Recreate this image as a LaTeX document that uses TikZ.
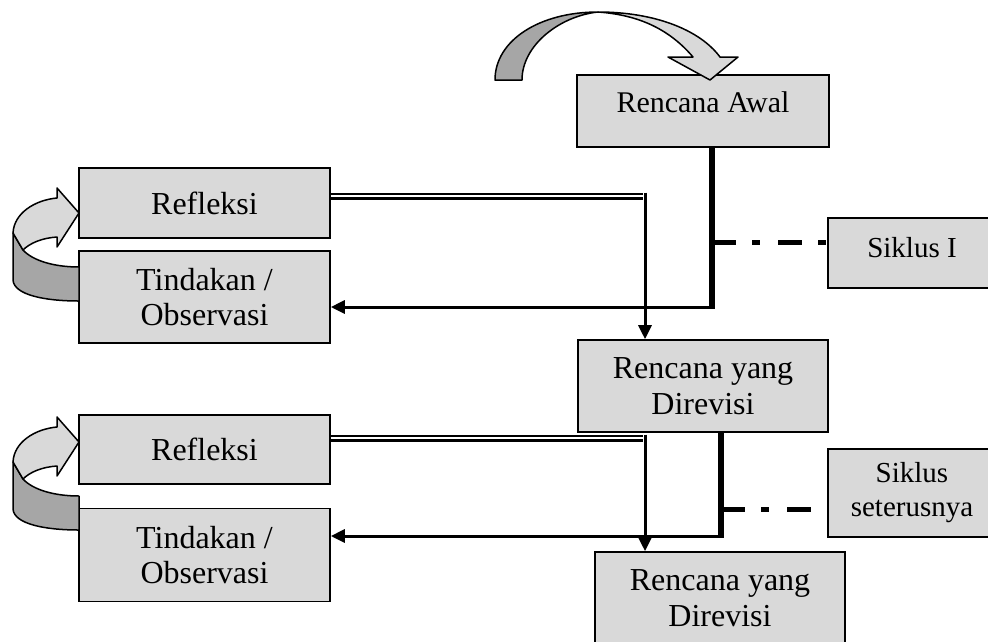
\documentclass[tikz,border=0pt]{standalone}
\usepackage{fontspec}
\setmainfont{Liberation Serif}
\usetikzlibrary{arrows.meta}
\definecolor{boxgray}{HTML}{D9D9D9}
\definecolor{ribbondark}{HTML}{A6A6A6}
\begin{document}
\begin{tikzpicture}[x=1pt,y=-1pt,
 box/.style={draw, line width=1.6pt, fill=boxgray, align=center, inner sep=0pt, font=\fontsize{32}{35.5}\selectfont},
 abox/.style={box, font=\fontsize{30}{34}\selectfont},
 sbox/.style={box, font=\fontsize{29}{34}\selectfont},
 heavy/.style={line width=6.5pt},
 arr/.style={line width=3pt, -{Triangle[length=14pt,width=13pt]}},
 dashdot/.style={line width=5pt, dash pattern=on 24pt off 16pt on 8pt off 18pt},
 dbl/.style={double, line width=2.2pt, double distance=2.6pt},
 blk/.style={draw, line width=1.5pt, line join=round}]
\useasboundingbox (0,0) rectangle (988,641);
\clip (0,0) rectangle (988,641);

% boxes
\node[abox, minimum width=252pt, minimum height=72pt, text depth=18.5pt] (awal) at (703,111) {Rencana Awal};
\node[box, minimum width=251pt, minimum height=70pt] (ref1) at (204.5,203) {Refleksi};
\node[box, minimum width=251pt, minimum height=92pt] (tin1) at (204.5,297) {Tindakan /\\Observasi};
\node[sbox, minimum width=168pt, minimum height=70pt, text depth=12pt] (sik1) at (912,253) {Siklus I};
\node[box, minimum width=250pt, minimum height=92pt] (rev1) at (703,386) {Rencana yang\\Direvisi};
\node[sbox, minimum width=168pt, minimum height=88pt] (sik2) at (912,493) {Siklus\\seterusnya};
\node[box, minimum width=251pt, minimum height=69pt] (ref2) at (204.5,449.5) {Refleksi};
\node[box, minimum width=251pt, minimum height=93pt] (tin2) at (204.5,555) {Tindakan /\\Observasi};
\node[box, minimum width=250pt, minimum height=92pt] (rev2) at (720,598) {Rencana yang\\Direvisi};

% helper coordinates
\coordinate (k1) at (712,307);
\coordinate (dd1) at (712,242);
\coordinate (v1) at (645,196);
\coordinate (k2) at (721,536);
\coordinate (dd2) at (721,509);
\coordinate (v2) at (645,438);

% cycle I connectors
\draw[heavy] (awal.south -| k1) -- ([yshift=-1.5pt]k1);
\draw[arr] (k1) -- (tin1.east |- k1);
\draw[dashdot] (dd1) -- (sik1.west |- dd1);
\draw[dbl] (ref1.east |- v1) -- ([xshift=-2pt]v1);
\draw[arr] ([yshift=3.5pt]v1) -- (rev1.north -| v1);

% next cycle connectors
\draw[heavy] (rev1.south -| k2) -- ([yshift=-1.5pt]k2);
\draw[arr] (k2) -- (tin2.east |- k2);
\draw[dashdot] (dd2) -- (sik2.west |- dd2);
\draw[dbl] (ref2.east |- v2) -- ([xshift=-2pt]v2);
\draw[arr] ([yshift=3.5pt]v2) -- (rev2.north -| v2);

% top curved block arrow
\path[blk, fill=ribbondark] (495,80) .. controls (495,40) and (540,12) .. (598,12)
  .. controls (560,16) and (522,45) .. (522,80) -- cycle;
\path[blk, fill=boxgray] (598,12) .. controls (655,12) and (700,30) .. (720,57)
  -- (738,57) -- (710,80) -- (668,57) -- (693,57)
  .. controls (670,30) and (640,15) .. (598,12) -- cycle;

% left curved block arrows
\foreach \dy in {0,229}{
\begin{scope}[yshift=-\dy pt]
\path[blk, fill=ribbondark] (13,233) -- (13,280) .. controls (14,295) and (45,301) .. (79,301)
  -- (79,267) .. controls (55,267) and (33,261) .. (23,250) -- cycle;
\path[blk, fill=boxgray] (13,233) .. controls (14,213) and (35,200) .. (57,198)
  -- (57,188) -- (79,213) -- (57,247) -- (57,237)
  .. controls (42,238) and (30,243) .. (23,250) -- cycle;
\end{scope}}
\end{tikzpicture}
\end{document}
